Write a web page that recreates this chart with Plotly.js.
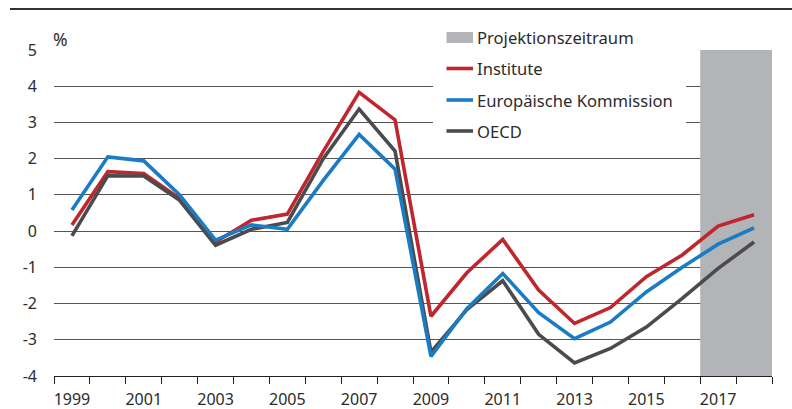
<!DOCTYPE html>
<html>
<head>
<meta charset="utf-8">
<script src="https://cdn.plot.ly/plotly-3.0.1.min.js"></script>
<style>
  html, body { margin: 0; padding: 0; background: #fff; }
  #chart { width: 792px; height: 409px; }
</style>
</head>
<body>
<div id="chart"></div>
<script>
// ---- data ----
var years = [1999, 2000, 2001, 2002, 2003, 2004, 2005, 2006, 2007, 2008,
             2009, 2010, 2011, 2012, 2013, 2014, 2015, 2016, 2017, 2018];
var institute = [0.17, 1.64, 1.59, 0.90, -0.30, 0.30, 0.47, 2.20, 3.83, 3.07,
                 -2.35, -1.15, -0.23, -1.63, -2.55, -2.11, -1.26, -0.66, 0.14, 0.45];
var kommission = [0.58, 2.05, 1.94, 1.00, -0.25, 0.17, 0.05, 1.40, 2.67, 1.71,
                  -3.46, -2.14, -1.17, -2.25, -2.97, -2.51, -1.68, -1.00, -0.36, 0.09];
var oecd = [-0.13, 1.53, 1.52, 0.85, -0.39, 0.05, 0.24, 2.00, 3.37, 2.21,
            -3.34, -2.17, -1.37, -2.85, -3.64, -3.24, -2.65, -1.86, -1.03, -0.30];
var projectionStart = 2016.5, projectionEnd = 2018.5;
var xTickLabels = ["1999", "2001", "2003", "2005", "2007", "2009", "2011", "2013", "2015", "2017"];
var yTickVals = [-4, -3, -2, -1, 0, 1, 2, 3, 4, 5];
var yTickText = ["-4", "-3", "-2", "-1", "0", "1", "2", "3", "4", "5"];
var legendNames = ["Projektionszeitraum", "Institute", "Europäische Kommission", "OECD"];

// ---- styles ----
var C_RED = "#c0262d", C_BLUE = "#1b7bc3", C_GREY = "#4b4b4d", C_SHADE = "#b2b4b7";
var FONT = "Noto Sans, sans-serif";
var TXT = "#2b2b2b";
var W = 792, H = 409, ML = 54, MR = 20, MT = 50, MB = 33;
function px(x) { return (x - ML) / (W - ML - MR); }
function py(y) { return (H - MB - y) / (H - MT - MB); }

var lw = 3.6;
var traces = [
  { x: years, y: institute, type: "scatter", mode: "lines", name: legendNames[1],
    line: { color: C_RED, width: lw }, showlegend: false, hoverinfo: "skip" },
  { x: years, y: oecd, type: "scatter", mode: "lines", name: legendNames[3],
    line: { color: C_GREY, width: lw }, showlegend: false, hoverinfo: "skip" },
  { x: years, y: kommission, type: "scatter", mode: "lines", name: legendNames[2],
    line: { color: C_BLUE, width: lw }, showlegend: false, hoverinfo: "skip" }
];

var shapes = [
  // projection period shading
  { type: "rect", xref: "x", yref: "y", x0: projectionStart, x1: projectionEnd, y0: -4, y1: 5,
    fillcolor: C_SHADE, line: { width: 0 }, layer: "between" },
  // top rule
  { type: "line", xref: "paper", yref: "paper", x0: px(10), x1: px(792), y0: py(9), y1: py(9),
    line: { color: "#333", width: 2 } },
  // legend background
  { type: "rect", xref: "paper", yref: "paper", x0: px(433), x1: px(686), y0: py(18), y1: py(126),
    fillcolor: "#ffffff", line: { width: 0 }, layer: "above" },
  // legend symbols
  { type: "rect", xref: "paper", yref: "paper", x0: px(446.5), x1: px(473), y0: py(32), y1: py(43),
    fillcolor: C_SHADE, line: { width: 0 }, layer: "above" },
  { type: "line", xref: "paper", yref: "paper", x0: px(446.5), x1: px(473), y0: py(68.5), y1: py(68.5),
    line: { color: C_RED, width: lw }, layer: "above" },
  { type: "line", xref: "paper", yref: "paper", x0: px(446.5), x1: px(473), y0: py(100), y1: py(100),
    line: { color: C_BLUE, width: lw }, layer: "above" },
  { type: "line", xref: "paper", yref: "paper", x0: px(446.5), x1: px(473), y0: py(131), y1: py(131),
    line: { color: C_GREY, width: lw }, layer: "above" }
];

var legendRows = [37, 68, 100, 131];
var annotations = legendNames.map(function (t, i) {
  return { text: t, xref: "paper", yref: "paper", x: px(475), y: py(legendRows[i]),
           xanchor: "left", yanchor: "middle", showarrow: false,
           font: { family: FONT, size: 16.6, color: TXT } };
});
annotations.push({ text: "%", xref: "paper", yref: "paper", x: px(51), y: py(39),
  xanchor: "left", yanchor: "middle", showarrow: false,
  font: { family: FONT, size: 17.5, color: TXT } });

var layout = {
  width: W, height: H,
  margin: { l: ML, r: MR, t: MT, b: MB, pad: 0 },
  paper_bgcolor: "#fff", plot_bgcolor: "#fff",
  font: { family: FONT, size: 16, color: TXT },
  showlegend: false,
  xaxis: {
    type: "linear", range: [1998.5, 2018.5], fixedrange: true,
    tickvals: xTickLabels.map(Number), ticktext: xTickLabels,
    ticks: "", showgrid: false, zeroline: false,
    showline: true, linecolor: "#222", linewidth: 1,
    ticklabelstandoff: 9,
    minor: { ticks: "outside", ticklen: 7, tickcolor: "#222", tickwidth: 1,
             tick0: 1998.5, dtick: 1, showgrid: false },
    tickfont: { family: FONT, size: 16, color: TXT }
  },
  yaxis: {
    range: [-4, 5], fixedrange: true,
    tickvals: yTickVals, ticktext: yTickText,
    ticks: "", showgrid: true, gridcolor: "#555", gridwidth: 1,
    zeroline: false, showline: false,
    ticklabelstandoff: 16,
    tickfont: { family: FONT, size: 16, color: TXT }
  },
  shapes: shapes,
  annotations: annotations
};

Plotly.newPlot("chart", traces, layout, { staticPlot: true, displayModeBar: false });
</script>
</body>
</html>
